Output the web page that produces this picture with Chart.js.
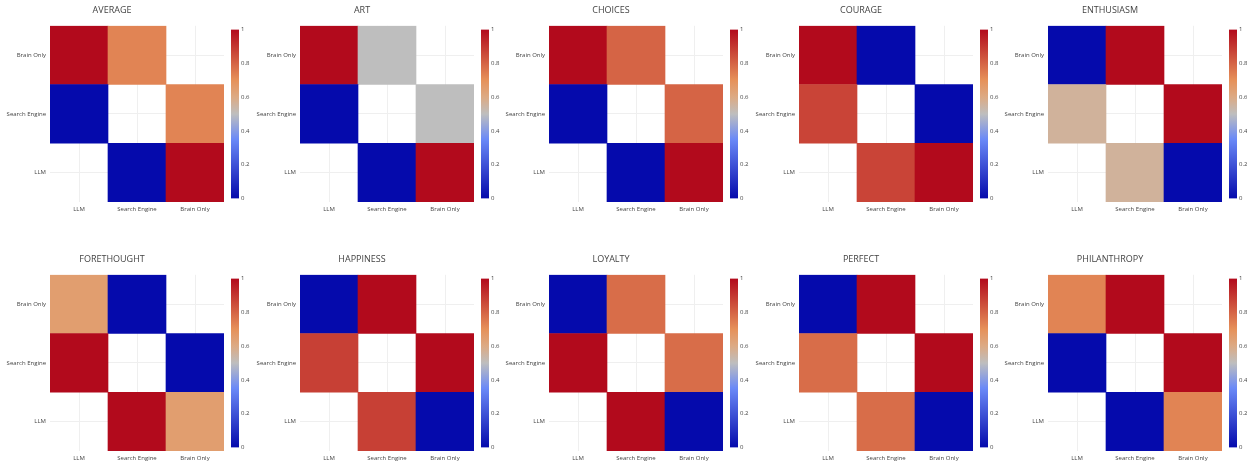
<!DOCTYPE html>
<html>
<head>
<meta charset="utf-8">
<script src="https://cdn.jsdelivr.net/npm/chart.js@4.4.1/dist/chart.umd.min.js"></script>
<style>
  body { margin: 0; background: #fff; }
  #wrap { position: relative; width: 1247px; height: 465px; overflow: hidden; }
  canvas { position: absolute; }
</style>
</head>
<body>
<div id="wrap"></div>
<script>
// panel titles, left to right, top row then bottom row
const titles = ["AVERAGE", "ART", "CHOICES", "COURAGE", "ENTHUSIASM",
                "FORETHOUGHT", "HAPPINESS", "LOYALTY", "PERFECT", "PHILANTHROPY"];

const columnLabels = ["LLM", "Search Engine", "Brain Only"];
const rowLabels = ["LLM", "Search Engine", "Brain Only"]; // bottom to top

// pairwise values (matrix is symmetric, diagonal empty)
const brainVsLlm    = [1,    1,   1,    1,    0,    0.65, 0,    0,    0,    0.73];
const brainVsSearch = [0.73, 0.5, 0.8,  0,    1,    0,    1,    0.78, 1,    1];
const searchVsLlm   = [0,    0,   0,    0.87, 0.56, 1,    0.88, 1,    0.78, 0];

const colorbarTicks = [0, 0.2, 0.4, 0.6, 0.8, 1];

// plotly RdBu (reversed) colour stops
const stops = [
  [0, [5, 10, 172]],
  [0.35, [106, 137, 247]],
  [0.5, [190, 190, 190]],
  [0.6, [220, 170, 132]],
  [0.7, [230, 145, 90]],
  [1, [178, 10, 28]]
];

const colorFor = (v) => {
  for (let i = 1; i < stops.length; i++) {
    if (v <= stops[i][0]) {
      const [a, ca] = stops[i - 1];
      const [b, cb] = stops[i];
      const t = (v - a) / (b - a);
      const c = ca.map((x, k) => Math.round(x + (cb[k] - x) * t));
      return `rgb(${c[0]},${c[1]},${c[2]})`;
    }
  }
  const c = stops[stops.length - 1][1];
  return `rgb(${c[0]},${c[1]},${c[2]})`;
};

const FONT = "'Open Sans', 'DejaVu Sans', sans-serif";
const TXT = "#444";
const wrap = document.getElementById("wrap");

const makeCanvas = (left, top, w, h) => {
  const c = document.createElement("canvas");
  c.width = w; c.height = h;
  c.style.left = left + "px"; c.style.top = top + "px";
  c.style.width = w + "px"; c.style.height = h + "px";
  wrap.appendChild(c);
  return c;
};

const drawHeatmap = (i, plotLeft, plotTop) => {
  const rows = [
    [null, searchVsLlm[i], brainVsLlm[i]],
    [searchVsLlm[i], null, brainVsSearch[i]],
    [brainVsLlm[i], brainVsSearch[i], null]
  ];
  const canvas = makeCanvas(plotLeft - 50, plotTop - 26, 224, 218);

  new Chart(canvas, {
    type: "bar",
    data: {
      labels: columnLabels,
      datasets: rows.map((vals, r) => ({
        data: vals.map(v => v === null ? null : [r, r + 1]),
        backgroundColor: vals.map(v => v === null ? "rgba(0,0,0,0)" : colorFor(v)),
        borderWidth: 0,
        grouped: false,
        barPercentage: 1,
        categoryPercentage: 1
      }))
    },
    options: {
      responsive: false,
      animation: false,
      layout: { padding: 0 },
      plugins: {
        legend: { display: false },
        tooltip: { enabled: false },
        title: {
          display: true,
          text: titles[i],
          color: TXT,
          font: { family: FONT, size: 9, weight: "normal" },
          padding: { top: 5, bottom: 10 }
        }
      },
      scales: {
        x: {
          grid: { offset: false, color: "#efefef", drawTicks: false },
          border: { display: false },
          ticks: { color: TXT, font: { family: FONT, size: 6 }, padding: 4, maxRotation: 0 },
          afterFit: (s) => { s.height = 16; }
        },
        y: {
          min: 0,
          max: 3,
          afterBuildTicks: (s) => { s.ticks = [0.5, 1.5, 2.5].map(v => ({ value: v })); },
          grid: { color: "#efefef", drawTicks: false },
          border: { display: false },
          ticks: {
            color: TXT,
            font: { family: FONT, size: 6 },
            padding: 4,
            callback: (v) => rowLabels[Math.floor(v)]
          },
          afterFit: (s) => { s.width = 50; }
        }
      }
    }
  });
};

const drawColorbar = (plotLeft, plotTop) => {
  const canvas = makeCanvas(plotLeft + 181, plotTop - 2, 30, 180);

  new Chart(canvas, {
    type: "bar",
    data: {
      labels: [""],
      datasets: [{
        data: [[colorbarTicks[0], colorbarTicks[colorbarTicks.length - 1]]],
        borderWidth: 0,
        barPercentage: 1,
        categoryPercentage: 1,
        backgroundColor: (ctx) => {
          const area = ctx.chart.chartArea;
          if (!area) return "#888";
          const g = ctx.chart.ctx.createLinearGradient(0, area.bottom, 0, area.top);
          stops.forEach(([p]) => g.addColorStop(p, colorFor(p)));
          return g;
        }
      }]
    },
    options: {
      responsive: false,
      animation: false,
      layout: { padding: { top: 5, bottom: 5, left: 0, right: 0 } },
      plugins: { legend: { display: false }, tooltip: { enabled: false } },
      scales: {
        x: { display: false },
        y: {
          position: "right",
          min: 0,
          max: 1,
          afterBuildTicks: (s) => { s.ticks = colorbarTicks.map(v => ({ value: v })); },
          grid: { display: false, drawTicks: false },
          border: { display: false },
          ticks: {
            color: TXT,
            font: { family: FONT, size: 6 },
            padding: 2,
            callback: (v) => String(+v.toFixed(1))
          },
          afterFit: (s) => { s.width = 22; }
        }
      }
    }
  });
};

titles.forEach((t, i) => {
  const col = i % 5;
  const row = Math.floor(i / 5);
  const plotLeft = Math.round(50 + col * 249.5);
  const plotTop = 26 + row * 249;
  drawHeatmap(i, plotLeft, plotTop);
  drawColorbar(plotLeft, plotTop);
});
</script>
</body>
</html>
